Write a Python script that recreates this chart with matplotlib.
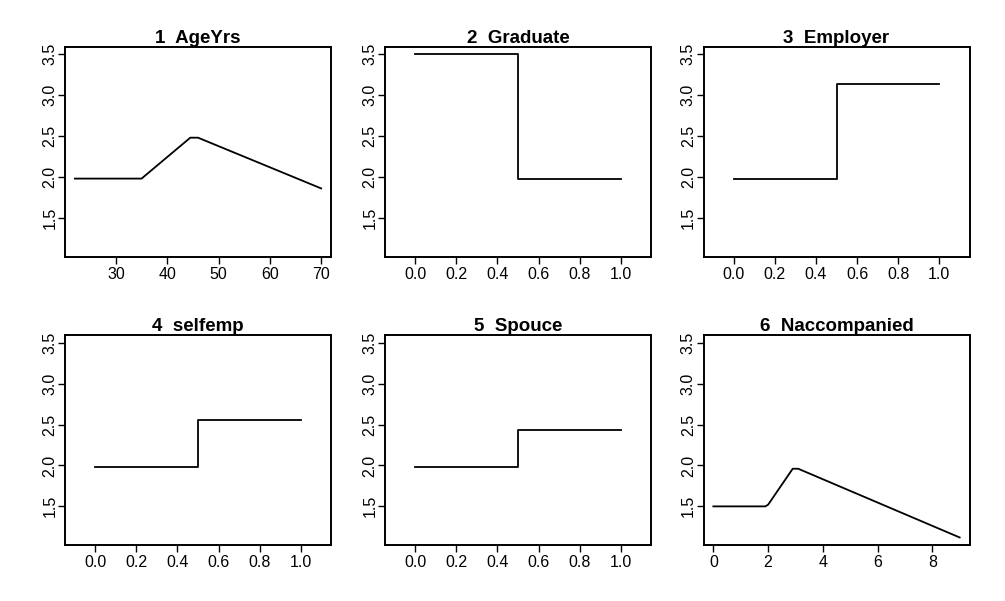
import matplotlib
matplotlib.use("Agg")
import matplotlib.pyplot as plt

plt.rcParams['font.family'] = ['Liberation Sans', 'DejaVu Sans']

titles = ["1  AgeYrs", "2  Graduate", "3  Employer", "4  selfemp", "5  Spouce", "6  Naccompanied"]

# Panel 1: AgeYrs
age_x = [22, 35, 44.5, 46, 70]
age_y = [1.98, 1.98, 2.48, 2.48, 1.86]

# Binary panels (step at 0.5)
bin_x = [0.0, 0.5, 1.0]
graduate_y = [3.50, 1.98, 1.98]
employer_y = [1.98, 3.14, 3.14]
selfemp_y = [1.98, 2.56, 2.56]
spouce_y = [1.98, 2.43, 2.43]

# Panel 6: Naccompanied
nacc_x = [0, 1.9, 2.0, 2.9, 3.1, 9]
nacc_y = [1.50, 1.50, 1.52, 1.96, 1.96, 1.12]

y_ticks = [1.5, 2.0, 2.5, 3.0, 3.5]
age_ticks = [30, 40, 50, 60, 70]
bin_ticks = [0.0, 0.2, 0.4, 0.6, 0.8, 1.0]
nacc_ticks = [0, 2, 4, 6, 8]

fig = plt.figure(figsize=(10.05, 6.01), dpi=100)
W, H = 1005, 601
lefts = [65, 385, 703.5]
tops = [47, 335.5]
pw, ph = 266, 209.5

axes = []
for r in range(2):
    for c in range(3):
        ax = fig.add_axes([lefts[c] / W, 1 - (tops[r] + ph) / H, pw / W, ph / H])
        axes.append(ax)

lw = 1.3
axes[0].plot(age_x, age_y, color='black', lw=lw)
axes[0].set_xlim(20.08, 71.92)
axes[0].set_xticks(age_ticks)
axes[0].set_xticklabels([str(t) for t in age_ticks])

for ax, ys in zip([axes[1], axes[2], axes[3], axes[4]], [graduate_y, employer_y, selfemp_y, spouce_y]):
    ax.plot(bin_x, ys, color='black', lw=lw, drawstyle='steps-post')
    ax.set_xlim(-0.148, 1.148)
    ax.set_xticks(bin_ticks)
    ax.set_xticklabels([f"{t:.1f}" for t in bin_ticks])

axes[5].plot(nacc_x, nacc_y, color='black', lw=lw)
axes[5].set_xlim(-0.36, 9.36)
axes[5].set_xticks(nacc_ticks)
axes[5].set_xticklabels([str(t) for t in nacc_ticks])

for ax, t in zip(axes, titles):
    ax.set_ylim(1.028, 3.588)
    ax.set_yticks(y_ticks)
    ax.set_yticklabels([f"{v:.1f}" for v in y_ticks])
    ax.tick_params(axis='both', length=5, width=1.0, labelsize=11.5, colors='black')
    ax.tick_params(axis='x', pad=2.5)
    ax.tick_params(axis='y', pad=0.5)
    for lbl in ax.get_yticklabels():
        lbl.set_rotation(90)
        lbl.set_va('center')
    for s in ax.spines.values():
        s.set_linewidth(1.4)
        s.set_color('black')
    ax.set_title(t, fontsize=13.5, fontweight='bold', pad=2)

fig.savefig("out.png", dpi=100, facecolor='white')
